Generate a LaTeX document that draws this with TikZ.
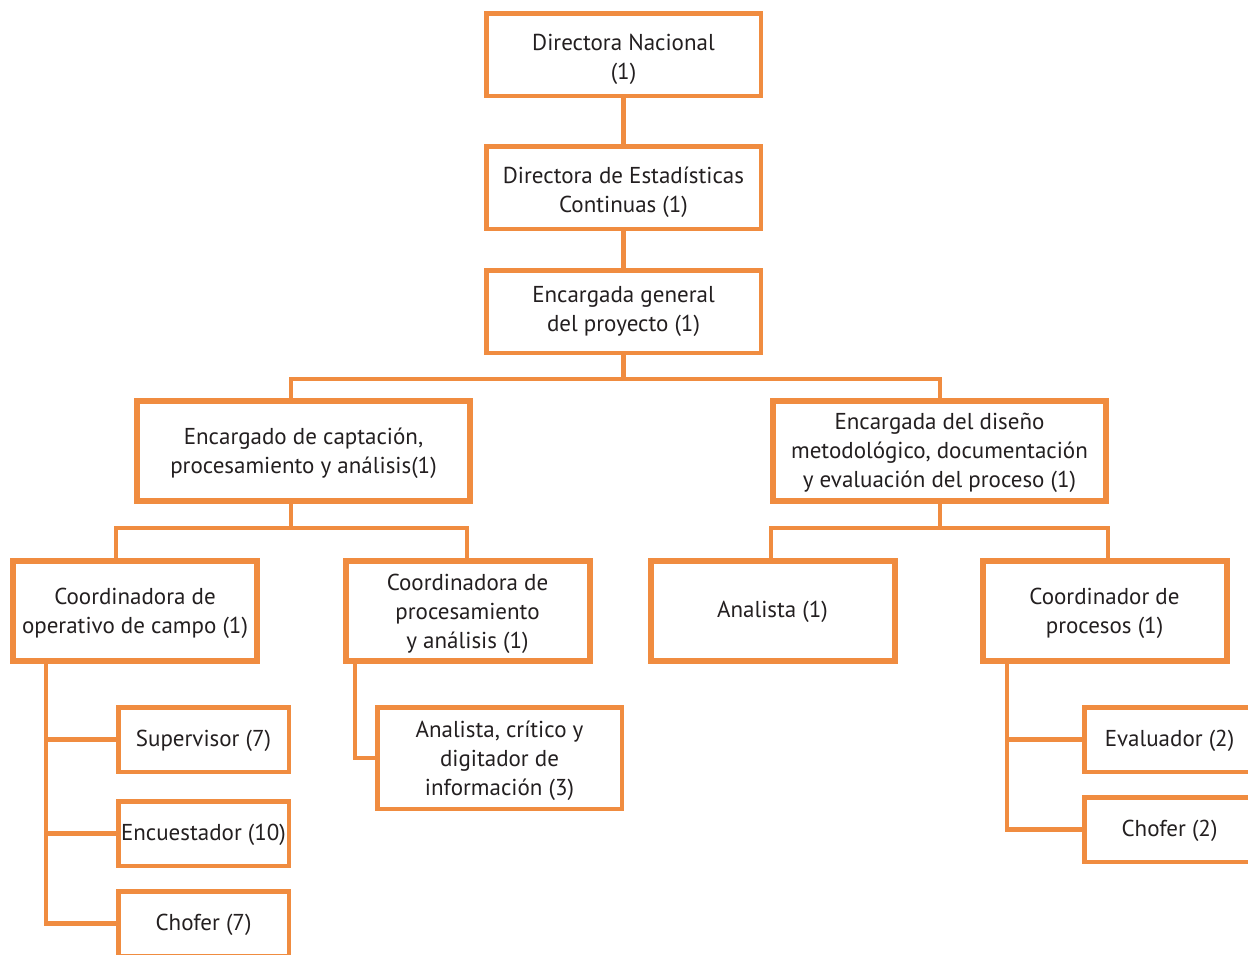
\documentclass[tikz,border=0pt]{standalone}
\usepackage{fontspec}
\setmainfont{PT Sans}
\definecolor{org}{RGB}{240,140,64}
\definecolor{txt}{RGB}{35,31,32}
\newcommand{\txlift}[1]{\rule{0pt}{#1}}
\begin{document}
\begin{tikzpicture}[x=1pt,y=-1pt,
  lower/.style={execute at begin node={\rule{0pt}{#1}}},
  box/.style={draw=org, line width=4.5pt, fill=white, text=txt, align=center, inner sep=0pt,
    font=\fontsize{23}{29}\selectfont},
  bigbox/.style={box, line width=6pt},
  topbox/.style={box, minimum width=274.5pt, minimum height=82.5pt},
  midbox/.style={bigbox, minimum width=333pt, minimum height=100pt},
  lowbox/.style={bigbox, minimum width=244pt, minimum height=100pt},
  smallbox/.style={box, minimum width=170.5pt, minimum height=64.5pt, lower=19pt},
  conn/.style={draw=org, line width=4.5pt}]
\clip (0,0) rectangle (1248,954);
\fill[white] (0,0) rectangle (1248,954);

\node[topbox] (n1) at (623.5,54.5) {\txlift{26pt}Directora Nacional\\(1)};
\node[topbox] (n2) at (623.5,187.5) {\txlift{26pt}Directora de Estadísticas\\Continuas (1)};
\node[topbox] (n3) at (623.5,311.5) {Encargada general\\del proyecto (1)};

\node[midbox] (n4) at (303.5,451) {\txlift{21pt}Encargado de captación,\\procesamiento y análisis(1)};
\node[midbox] (n5) at (939.5,451) {\txlift{21pt}Encargada del diseño\\metodológico, documentación\\y evaluación del proceso (1)};

\node[lowbox] (n6) at (135,611) {\txlift{21pt}Coordinadora de\\operativo de campo (1)};
\node[lowbox] (n7) at (467.5,611) {\txlift{22pt}Coordinadora de\\procesamiento\\y análisis (1)};
\node[lowbox, lower=18pt] (n8) at (772.5,611) {Analista (1)};
\node[lowbox] (n9) at (1104.5,611) {\txlift{21pt}Coordinador de\\procesos (1)};

\node[smallbox] (n11) at (203.5,739.5) {Supervisor (7)};
\node[smallbox] (n12) at (203.5,833.5) {Encuestador (10)};
\node[smallbox] (n13) at (203.5,923.5) {Chofer (7)};

\node[box, minimum width=244.5pt, minimum height=101.5pt] (n14) at (499.5,758) {\txlift{22pt}Analista, crítico y\\digitador de\\información (3)};

\node[smallbox] (n15) at (1169.5,739.5) {Evaluador (2)};
\node[smallbox] (n16) at (1169.5,829.5) {Chofer (2)};

% connectors
\draw[conn] (n1.south) -- (n2.north);
\draw[conn] (n2.south) -- (n3.north);
\coordinate (j1) at (623.5,379);
\coordinate (L4) at (291,379);
\coordinate (R5) at (940,379);
\draw[conn] (n3.south) -- (j1);
\draw[conn] (L4 |- n4.north) -- (L4) -- (R5) -- (R5 |- n5.north);

\coordinate (c4) at (291,528);
\coordinate (L6) at (116,528);
\coordinate (R7) at (467,528);
\draw[conn] (c4 |- n4.south) -- (c4);
\draw[conn] (L6 |- n6.north) -- (L6) -- (R7) -- (R7 |- n7.north);

\coordinate (c5) at (940,528);
\coordinate (L8) at (771,528);
\coordinate (R9) at (1108,528);
\draw[conn] (c5 |- n5.south) -- (c5);
\draw[conn] (L8 |- n8.north) -- (L8) -- (R9) -- (R9 |- n9.north);

\coordinate (v6) at (46,0);
\draw[conn] (v6 |- n6.south) |- (n13.west);
\draw[conn] (v6 |- n11.west) -- (n11.west);
\draw[conn] (v6 |- n12.west) -- (n12.west);

\coordinate (v7) at (355,0);
\draw[conn] (v7 |- n7.south) |- (n14.west);

\coordinate (v9) at (1007,0);
\draw[conn] (v9 |- n9.south) |- (n16.west);
\draw[conn] (v9 |- n15.west) -- (n15.west);
\end{tikzpicture}
\end{document}
